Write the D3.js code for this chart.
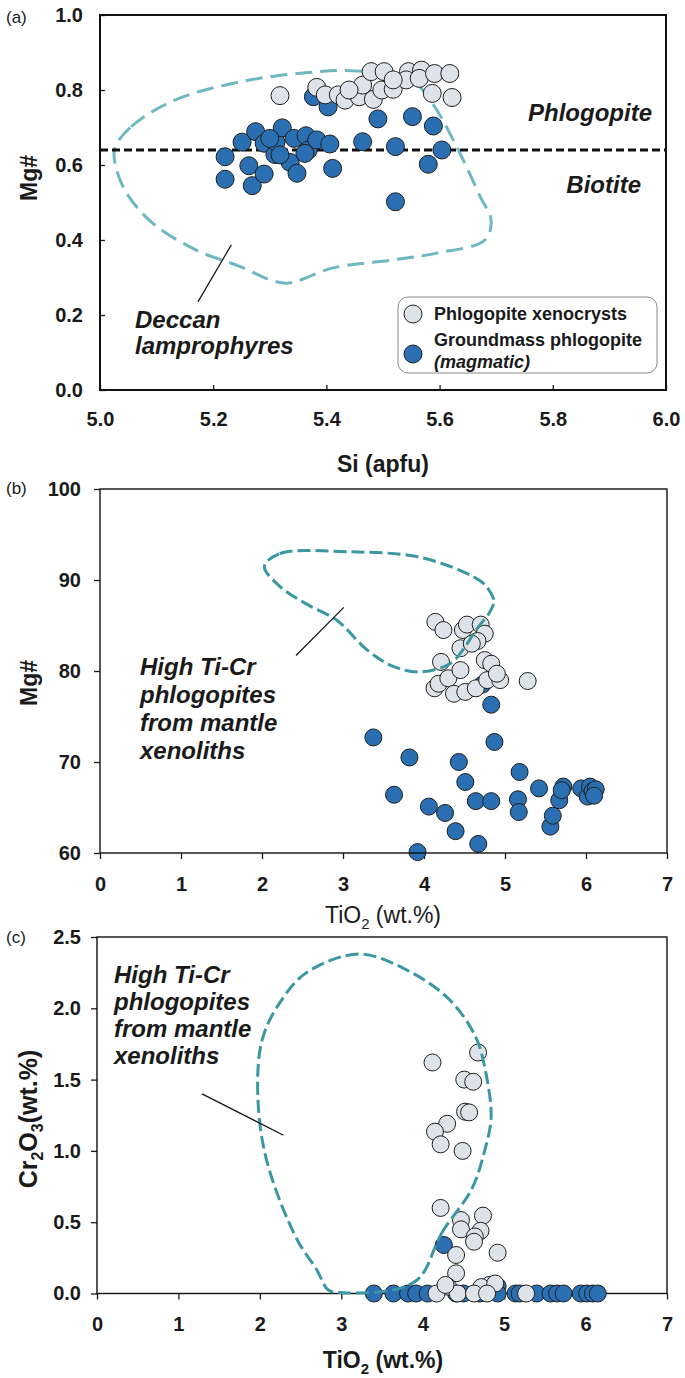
<!DOCTYPE html>
<html>
<head>
<meta charset="utf-8">
<script src="https://cdnjs.cloudflare.com/ajax/libs/d3/7.8.5/d3.min.js"></script>
<style>
  body { margin: 0; background: #fff; }
  svg text { font-family: "Liberation Sans", Arial, sans-serif; fill: #1a1a1a; }
  .tick text { font-weight: bold; font-size: 20px; }
  .tick line { stroke: #1a1a1a; stroke-width: 1.3; }
  .title { font-weight: bold; font-size: 23px; }
  .note { font-weight: bold; font-style: italic; font-size: 24px; }
  .legend { font-weight: bold; font-size: 18px; }
  .plabel { font-size: 17px; }
</style>
</head>
<body>
<div class="svg_container"></div>
<script>
// panel (a): Si (apfu) vs Mg#
var aGroundSi = [5.221, 5.221, 5.251, 5.275, 5.263, 5.269, 5.290, 5.290, 5.309, 5.311, 5.322, 5.336, 5.348, 5.343, 5.364, 5.368,
  5.383, 5.406, 5.411, 5.300, 5.318, 5.362, 5.377, 5.403, 5.464, 5.491, 5.552, 5.589, 5.522, 5.604, 5.580, 5.522];
var aGroundMg = [0.622, 0.562, 0.661, 0.689, 0.598, 0.545, 0.576, 0.658, 0.628, 0.661, 0.699, 0.607, 0.578, 0.671, 0.678, 0.640,
  0.667, 0.656, 0.591, 0.671, 0.627, 0.631, 0.782, 0.755, 0.662, 0.723, 0.729, 0.704, 0.649, 0.640, 0.602, 0.502];
var aXenoSi = [5.318, 5.383, 5.398, 5.421, 5.433, 5.458, 5.464, 5.483, 5.479, 5.502, 5.498, 5.518, 5.545, 5.541, 5.568, 5.564,
  5.591, 5.618, 5.587, 5.622, 5.518, 5.440];
var aXenoMg = [0.785, 0.807, 0.787, 0.787, 0.773, 0.782, 0.813, 0.775, 0.849, 0.849, 0.800, 0.802, 0.849, 0.827, 0.853, 0.831,
  0.844, 0.844, 0.791, 0.780, 0.827, 0.800];
var deccanSi = [5.026, 5.055, 5.132, 5.248, 5.363, 5.448, 5.549, 5.587, 5.633, 5.672, 5.691, 5.680, 5.595, 5.518, 5.410, 5.333,
  5.302, 5.248, 5.170, 5.093, 5.047, 5.028];
var deccanMg = [0.644, 0.702, 0.773, 0.822, 0.846, 0.851, 0.827, 0.765, 0.640, 0.515, 0.453, 0.400, 0.365, 0.347, 0.325, 0.285,
  0.293, 0.329, 0.373, 0.445, 0.525, 0.595];
var aTicksX = [5.0, 5.2, 5.4, 5.6, 5.8, 6.0];
var aTicksY = [0.0, 0.2, 0.4, 0.6, 0.8, 1.0];
var biotiteLine = 0.64;

// panel (b): TiO2 vs Mg#
var bGroundTi = [3.375, 3.63, 3.82, 3.92, 4.06, 4.26, 4.39, 4.43, 4.51, 4.64, 4.67, 4.83, 4.83, 4.87, 4.72, 5.18, 5.16, 5.17,
  5.42, 5.56, 5.59, 5.67, 5.72, 5.70, 5.94, 6.02, 6.05, 6.08, 6.12, 6.10];
var bGroundMg = [72.7, 66.4, 70.5, 60.1, 65.1, 64.4, 62.4, 70.0, 67.8, 65.7, 61.0, 65.7, 76.3, 72.2, 78.5, 68.9, 65.9, 64.5,
  67.1, 62.9, 64.1, 65.8, 67.3, 66.9, 67.1, 66.2, 67.3, 66.8, 67.0, 66.3];
var bXenoTi = [4.21, 4.13, 4.18, 4.30, 4.45, 4.37, 4.51, 4.64, 4.78, 4.94, 4.75, 4.83, 4.90, 5.28, 4.14, 4.24, 4.48, 4.53,
  4.70, 4.75, 4.66, 4.45, 4.59];
var bXenoMg = [81.0, 78.1, 78.6, 79.2, 80.1, 77.5, 77.7, 78.1, 79.0, 79.0, 81.2, 80.8, 79.7, 78.9, 85.4, 84.5, 84.5, 85.1,
  85.1, 84.1, 83.3, 82.5, 83.0];
var mantleTiB = [2.03, 2.22, 3.08, 3.89, 4.43, 4.75, 4.87, 4.87, 4.80, 4.64, 4.51, 4.32, 3.94, 3.62, 3.30, 2.92, 2.54, 2.22];
var mantleMgB = [91.5, 92.9, 93.1, 92.6, 91.1, 89.5, 87.7, 87.6, 86.3, 84.5, 82.7, 80.8, 79.9, 80.5, 82.3, 85.6, 87.4, 89.3];
var bTicksX = [0, 1, 2, 3, 4, 5, 6, 7];
var bTicksY = [60, 70, 80, 90, 100];

// panel (c): TiO2 vs Cr2O3
var cGroundTi = [3.40, 3.64, 3.82, 3.92, 4.06, 4.41, 4.50, 4.70, 4.26, 4.92, 4.92, 5.14, 5.19, 5.40, 5.57, 5.65, 5.73, 5.94,
  6.02, 6.09, 6.15];
var cGroundCr = [0, 0, 0, 0, 0, 0, 0, 0, 0.34, 0.05, 0, 0, 0, 0, 0, 0, 0, 0, 0, 0, 0];
var cXenoTi = [4.12, 4.68, 4.51, 4.62, 4.52, 4.57, 4.30, 4.15, 4.22, 4.49, 4.22, 4.74, 4.47, 4.47, 4.71, 4.64, 4.63, 4.41,
  4.92, 4.41, 4.31, 4.82, 4.72, 4.89, 4.17, 4.43, 4.63, 4.79, 5.27, 4.28];
var cXenoCr = [1.62, 1.69, 1.50, 1.485, 1.275, 1.27, 1.19, 1.135, 1.046, 1.00, 0.60, 0.546, 0.515, 0.45, 0.44, 0.40, 0.363,
  0.27, 0.286, 0.142, 0.048, 0.06, 0.045, 0.07, 0, 0, 0, 0, 0, 0.06];
var mantleTiC = [4.03, 4.23, 4.60, 4.76, 4.84, 4.76, 4.65, 4.33, 3.80, 3.21, 2.56, 2.24, 2.05, 1.98, 2.00, 2.13, 2.46, 2.70,
  2.84, 3.03, 3.31, 3.72, 3.93];
var mantleCrC = [0.165, 0.42, 0.73, 1.00, 1.24, 1.59, 1.80, 2.06, 2.27, 2.38, 2.245, 2.035, 1.82, 1.60, 1.19, 0.84, 0.375,
  0.165, 0.025, 0.006, 0.006, 0.036, 0.095];
var cTicksX = [0, 1, 2, 3, 4, 5, 6, 7];
var cTicksY = [0.0, 0.5, 1.0, 1.5, 2.0, 2.5];

var mantleNote = ["High Ti-Cr", "phlogopites", "from mantle", "xenoliths"];

var blue = "#2a6fb2", light = "#dde3e9", edge = "#1e1e1e";

var svg = d3.select(".svg_container").append("svg")
  .attr("width", 685)
  .attr("height", 1378);

function zip(xs, ys) {
  return xs.map(function(v, i) { return [v, ys[i]]; });
}

function dots(g, x, y, pts, fill, r) {
  g.selectAll(null)
    .data(pts)
    .enter().append("circle")
    .attr("cx", function(d) { return x(d[0]); })
    .attr("cy", function(d) { return y(d[1]); })
    .attr("r", r)
    .attr("fill", fill)
    .attr("stroke", edge)
    .attr("stroke-width", 1);
}

function field(g, x, y, pts, color, dash) {
  g.append("path")
    .datum(pts)
    .attr("fill", "none")
    .attr("stroke", color)
    .attr("stroke-width", 3)
    .attr("stroke-dasharray", dash)
    .attr("d", d3.line()
      .x(function(d) { return x(d[0]); })
      .y(function(d) { return y(d[1]); })
      .curve(d3.curveCatmullRomClosed.alpha(0.5)));
}

function noteText(g, x0, y0, lines, step) {
  lines.forEach(function(t, i) {
    g.append("text").attr("class", "note")
      .attr("x", x0).attr("y", y0 + i * step)
      .text(t);
  });
}

// subscript helper for TiO2 / Cr2O3 titles: parts are [text, isSub]
function chem(t, parts, sub) {
  parts.forEach(function(p) {
    if (p[1]) {
      t.append("tspan").attr("dy", 6).style("font-size", sub + "px").text(p[0]);
    } else {
      t.append("tspan").attr("dy", t.node().childNodes.length && parts.indexOf(p) > 0 ? -6 : 0).text(p[0]);
    }
  });
}

// ---------- (a)
var xa = d3.scaleLinear().domain([5, 6]).range([100, 666]);
var ya = d3.scaleLinear().domain([0, 1]).range([390, 15]);
var ga = svg.append("g");

ga.append("g")
  .attr("transform", "translate(0,390)")
  .call(d3.axisBottom(xa).tickValues(aTicksX).tickFormat(d3.format(".1f")).tickSizeInner(-5).tickSizeOuter(0).tickPadding(22))
  .call(function(g) { g.select(".domain").remove(); });
ga.append("g")
  .attr("transform", "translate(100,0)")
  .call(d3.axisLeft(ya).tickValues(aTicksY).tickFormat(d3.format(".1f")).tickSizeInner(-5).tickSizeOuter(0).tickPadding(17))
  .call(function(g) { g.select(".domain").remove(); });

field(ga, xa, ya, zip(deccanSi, deccanMg), "#6fb7c1", "17,8");

ga.append("line")
  .attr("x1", xa(5)).attr("x2", xa(6))
  .attr("y1", ya(biotiteLine)).attr("y2", ya(biotiteLine))
  .attr("stroke", "#111").attr("stroke-width", 3).attr("stroke-dasharray", "8,4");

dots(ga, xa, ya, zip(aGroundSi, aGroundMg), blue, 9);
dots(ga, xa, ya, zip(aXenoSi, aXenoMg), light, 9);

ga.append("rect")
  .attr("x", 100).attr("y", 15).attr("width", 566).attr("height", 375)
  .attr("fill", "none").attr("stroke", "#111").attr("stroke-width", 2);

ga.append("line")
  .attr("x1", xa(5.173)).attr("y1", ya(0.235))
  .attr("x2", xa(5.232)).attr("y2", ya(0.387))
  .attr("stroke", "#111").attr("stroke-width", 1.2);

ga.append("text").attr("class", "note").attr("x", 652).attr("y", 121).attr("text-anchor", "end").text("Phlogopite");
ga.append("text").attr("class", "note").attr("x", 641).attr("y", 193).attr("text-anchor", "end").text("Biotite");
noteText(ga, 135, 328, ["Deccan", "lamprophyres"], 26);

// legend
var lg = ga.append("g");
lg.append("rect")
  .attr("x", 398).attr("y", 297).attr("width", 259).attr("height", 76).attr("rx", 10)
  .attr("fill", "#fff").attr("stroke", "#8a8a8a").attr("stroke-width", 1);
lg.append("circle").attr("cx", 413).attr("cy", 314).attr("r", 9).attr("fill", light).attr("stroke", edge);
lg.append("circle").attr("cx", 413).attr("cy", 354).attr("r", 9).attr("fill", blue).attr("stroke", edge);
lg.append("text").attr("class", "legend").attr("x", 434).attr("y", 320).text("Phlogopite xenocrysts");
lg.append("text").attr("class", "legend").attr("x", 434).attr("y", 346).text("Groundmass phlogopite");
lg.append("text").attr("class", "legend").attr("x", 434).attr("y", 368).style("font-style", "italic").text("(magmatic)");

ga.append("text").attr("class", "title").attr("x", 383).attr("y", 472).attr("text-anchor", "middle").text("Si (apfu)");
ga.append("text").attr("class", "title").attr("transform", "translate(37,178) rotate(-90)").attr("text-anchor", "middle").text("Mg#");
ga.append("text").attr("class", "plabel").attr("x", 6).attr("y", 23).text("(a)");

// ---------- (b)
var xb = d3.scaleLinear().domain([0, 7]).range([100, 667]);
var yb = d3.scaleLinear().domain([60, 100]).range([853, 489]);
var gb = svg.append("g");

gb.append("g")
  .attr("transform", "translate(0,853)")
  .call(d3.axisBottom(xb).tickValues(bTicksX).tickFormat(d3.format("d")).tickSizeInner(6).tickSizeOuter(0).tickPadding(18))
  .call(function(g) { g.select(".domain").remove(); });
gb.append("g")
  .attr("transform", "translate(100,0)")
  .call(d3.axisLeft(yb).tickValues(bTicksY).tickFormat(d3.format("d")).tickSizeInner(6).tickSizeOuter(0).tickPadding(13))
  .call(function(g) { g.select(".domain").remove(); });

dots(gb, xb, yb, zip(bGroundTi, bGroundMg), blue, 8.5);
dots(gb, xb, yb, zip(bXenoTi, bXenoMg), light, 8.5);
field(gb, xb, yb, zip(mantleTiB, mantleMgB), "#3a97a3", "13,5");

gb.append("rect")
  .attr("x", 100).attr("y", 489).attr("width", 567).attr("height", 364)
  .attr("fill", "none").attr("stroke", "#111").attr("stroke-width", 1.4);

gb.append("line")
  .attr("x1", xb(2.42)).attr("y1", yb(81.7))
  .attr("x2", xb(3.01)).attr("y2", yb(87.0))
  .attr("stroke", "#111").attr("stroke-width", 1.2);
noteText(gb, 140, 675, mantleNote, 28);

var tb = gb.append("text").attr("x", 383).attr("y", 923).attr("text-anchor", "middle").style("font-size", "23px");
chem(tb, [["TiO", 0], ["2", 1], [" (wt.%)", 0]], 15);
gb.append("text").attr("class", "title").attr("transform", "translate(37,683) rotate(-90)").attr("text-anchor", "middle").text("Mg#");
gb.append("text").attr("class", "plabel").attr("x", 6).attr("y", 494).text("(b)");

// ---------- (c)
var xc = d3.scaleLinear().domain([0, 7]).range([97, 667]);
var yc = d3.scaleLinear().domain([0, 2.5]).range([1293.5, 937]);
var gc = svg.append("g");

gc.append("g")
  .attr("transform", "translate(0,1293.5)")
  .call(d3.axisBottom(xc).tickValues(cTicksX).tickFormat(d3.format("d")).tickSizeInner(6).tickSizeOuter(0).tickPadding(17))
  .call(function(g) { g.select(".domain").remove(); });
gc.append("g")
  .attr("transform", "translate(97,0)")
  .call(d3.axisLeft(yc).tickValues(cTicksY).tickFormat(d3.format(".1f")).tickSizeInner(6).tickSizeOuter(0).tickPadding(10))
  .call(function(g) { g.select(".domain").remove(); });

gc.append("rect")
  .attr("x", 97).attr("y", 937).attr("width", 570).attr("height", 356.5)
  .attr("fill", "none").attr("stroke", "#111").attr("stroke-width", 1.4);

dots(gc, xc, yc, zip(cGroundTi, cGroundCr), blue, 8.5);
dots(gc, xc, yc, zip(cXenoTi, cXenoCr), light, 8.5);
field(gc, xc, yc, zip(mantleTiC, mantleCrC), "#3a97a3", "13,5");

gc.append("line")
  .attr("x1", xc(1.29)).attr("y1", yc(1.40))
  .attr("x2", xc(2.29)).attr("y2", yc(1.11))
  .attr("stroke", "#111").attr("stroke-width", 1.2);
noteText(gc, 114, 983, mantleNote, 27);

var tc = gc.append("text").attr("class", "title").attr("x", 383).attr("y", 1368).attr("text-anchor", "middle");
chem(tc, [["TiO", 0], ["2", 1], [" (wt.%)", 0]], 15);
var yt = gc.append("text").attr("class", "title").attr("transform", "translate(37,1119) rotate(-90)").attr("text-anchor", "middle")
  .style("font-size", "25px");
chem(yt, [["Cr", 0], ["2", 1], ["O", 0], ["3", 1], ["(wt.%)", 0]], 16);
gc.append("text").attr("class", "plabel").attr("x", 6).attr("y", 943).text("(c)");
</script>
</body>
</html>
